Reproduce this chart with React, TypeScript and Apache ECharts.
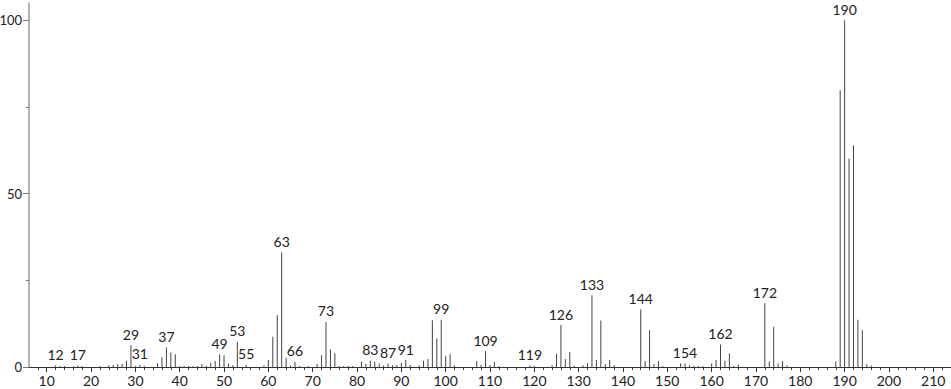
import React, { useEffect, useRef } from "react";
import * as echarts from "echarts";

const mz = [
  12, 13, 14, 16, 17, 18, 22, 24, 25, 26, 27, 28, 29, 30, 31, 32, 35, 36, 37, 38, 39,
  40, 41, 42, 43, 44, 45, 46, 47, 48, 49, 50, 51, 52, 53, 55, 59, 60, 61, 62, 63, 64,
  65, 66, 67, 69, 71, 72, 73, 74, 75, 76, 77, 78, 79, 81, 82, 83, 84, 85, 86, 87, 88,
  89, 90, 91, 92, 94, 95, 96, 97, 98, 99, 100, 101, 102, 107, 108, 109, 110, 111, 112,
  119, 120, 124, 125, 126, 127, 128, 129, 131, 132, 133, 134, 135, 136, 137, 138, 144,
  145, 146, 147, 148, 149, 153, 154, 155, 156, 157, 158, 160, 161, 162, 163, 164, 165,
  166, 172, 173, 174, 175, 176, 177, 188, 189, 190, 191, 192, 193, 194, 195, 196,
];
const intensity = [
  0.4, 0.3, 0.3, 0.2, 0.4, 0.3, 0.3, 0.4, 0.6, 0.9, 0.9, 1.8, 6.3, 0.3, 0.7, 0.3, 1.1, 2.8, 5.6, 4.2, 3.7,
  0.3, 0.3, 0.3, 0.3, 0.3, 0.8, 0.3, 1.2, 1.7, 3.7, 3.4, 1.0, 0.5, 7.3, 0.6, 0.4, 2.0, 8.7, 15.0, 33.1, 2.7,
  0.4, 1.5, 0.3, 0.3, 0.9, 3.4, 13.0, 5.1, 4.0, 0.3, 0.3, 0.3, 0.3, 1.5, 0.9, 1.9, 1.5, 1.0, 0.4, 1.0, 0.5,
  0.6, 1.2, 2.0, 0.6, 0.5, 1.8, 2.3, 13.5, 8.2, 13.6, 3.1, 3.7, 0.4, 1.7, 0.6, 4.6, 0.6, 1.5, 0.3,
  0.4, 0.3, 0.4, 3.8, 12.1, 2.3, 4.3, 0.3, 0.5, 1.1, 20.7, 2.0, 13.4, 0.9, 2.0, 0.5, 16.6,
  1.7, 10.7, 0.9, 1.7, 0.3, 1.0, 1.0, 0.5, 0.3, 0.3, 0.3, 1.0, 2.0, 6.5, 1.7, 3.9, 0.3,
  0.7, 18.4, 1.6, 11.6, 1.0, 1.7, 0.4, 1.6, 79.8, 100, 60.1, 64.0, 13.6, 10.6, 0.8, 0.4,
];
const labeledPeaks = [
  12, 17, 29, 31, 37, 49, 53, 55, 63, 66, 73, 83, 87, 91, 99, 109, 119, 126, 133, 144,
  154, 162, 172, 190,
];
const xMajorTicks = [10, 20, 30, 40, 50, 60, 70, 80, 90, 100, 110, 120, 130, 140, 150, 160, 170, 180, 190, 200, 210];
const xMinorTicks: number[] = [];
for (let v = 8; v <= 214; v += 2) if (v % 10 !== 0) xMinorTicks.push(v);
const yMajorTicks = [0, 50, 100];
const yMinorTicks = [25, 75];

const FONT = "Lato";

export default function App() {
  const ref = useRef<HTMLDivElement>(null);
  useEffect(() => {
    if (!ref.current) return;
    const chart = echarts.init(ref.current, undefined, { renderer: "svg" });
    const data = mz.map((m, i) => {
      const item: any = { value: [m, intensity[i]] };
      if (labeledPeaks.includes(m)) {
        item.label = { show: true };
      }
      return item;
    });
    const xCommon = { type: "value", min: 6, max: 214, splitLine: { show: false } };
    const yCommon = { type: "value", min: 0, max: 105, splitLine: { show: false } };
    chart.setOption({
      animation: false,
      grid: { left: 29, right: 0, top: 3, bottom: 22, containLabel: false, outerBoundsMode: "none" },
      xAxis: [
        {
          ...xCommon,
          axisLine: { show: true, lineStyle: { color: "#333", width: 1 } },
          axisTick: { show: true, customValues: xMajorTicks, length: 5, lineStyle: { color: "#333" } },
          axisLabel: {
            customValues: xMajorTicks,
            margin: 6,
            color: "#222",
            fontFamily: FONT,
            fontSize: 14,
          },
        },
        {
          ...xCommon,
          position: "bottom",
          axisLine: { show: false },
          axisTick: { show: true, customValues: xMinorTicks, length: 3, lineStyle: { color: "#333" } },
          axisLabel: { show: false },
        },
      ],
      yAxis: [
        {
          ...yCommon,
          axisLine: { show: true, lineStyle: { color: "#999", width: 1.5 } },
          axisTick: { show: true, customValues: yMajorTicks, length: 6, lineStyle: { color: "#777" } },
          axisLabel: {
            customValues: yMajorTicks,
            margin: 7,
            color: "#222",
            fontFamily: FONT,
            fontSize: 13,
          },
        },
        {
          ...yCommon,
          position: "left",
          axisLine: { show: false },
          axisTick: { show: true, customValues: yMinorTicks, length: 3, lineStyle: { color: "#777" } },
          axisLabel: { show: false },
        },
      ],
      series: [
        {
          type: "bar",
          xAxisIndex: 0,
          yAxisIndex: 0,
          barWidth: 1,
          itemStyle: { color: "#444" },
          label: {
            show: false,
            position: "top",
            distance: 4,
            color: "#222",
            fontFamily: FONT,
            fontSize: 14,
            formatter: (p: any) => String(p.value[0]),
          },
          data,
        },
      ],
    });
    return () => chart.dispose();
  }, []);
  return (
    <div
      ref={ref}
      style={{ position: "fixed", left: 0, top: 0, width: 951, height: 389, background: "#fff" }}
    />
  );
}
